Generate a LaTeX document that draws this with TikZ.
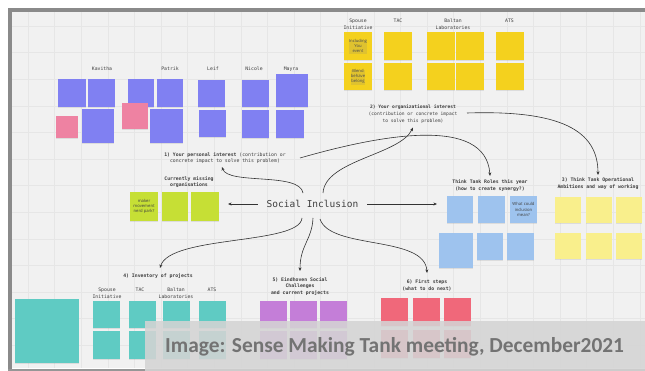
\documentclass[tikz,border=0pt]{standalone}
\usepackage{fontspec}
\setmonofont{DejaVu Sans Mono}
\newfontfamily\capfont{Carlito}
\newfontfamily\stfont{Open Sans}
\usetikzlibrary{shadows,arrows.meta}
\definecolor{canvas}{HTML}{F1F1F1}
\definecolor{gridc}{HTML}{E6E6E6}
\definecolor{framec}{HTML}{8A8A8A}
\definecolor{lblc}{HTML}{3E3E3E}
\definecolor{arrc}{HTML}{333333}
\definecolor{purp}{HTML}{8080F2}
\definecolor{pinkc}{HTML}{EE82A2}
\definecolor{yel}{HTML}{F4D11E}
\definecolor{lime}{HTML}{C6DF35}
\definecolor{lblue}{HTML}{9EC3EE}
\definecolor{pyel}{HTML}{F9EF8C}
\definecolor{teal}{HTML}{5FCBC3}
\definecolor{mag}{HTML}{C47ED8}
\definecolor{redc}{HTML}{F0687A}
\definecolor{capbg}{HTML}{D4D4D4}
\definecolor{capc}{HTML}{737373}
\tikzset{
  lbl/.style={font=\ttfamily\fontsize{4.8}{6.8}\selectfont, text=lblc, align=center, inner sep=0pt},
  blbl/.style={font=\ttfamily\bfseries\fontsize{4.8}{6.8}\selectfont, text=lblc, align=center, inner sep=0pt},
  stk/.style={inner sep=0pt, align=center, font=\stfont\fontsize{4.2}{5.2}\selectfont, text=black!75,
    drop shadow={shadow xshift=0pt, shadow yshift=-1.3pt, opacity=0.18}},
  sz/.style 2 args={minimum width=#1 pt, minimum height=#2 pt},
  conn/.style={draw=arrc, line width=0.6pt, -{Stealth[length=3.6pt,width=3pt]}}
}
\begin{document}
\begin{tikzpicture}[x=1pt,y=-1pt]
\useasboundingbox (0,0) rectangle (645,371);
\fill[white] (0,0) rectangle (645,371);
\fill[canvas] (12,12) rectangle (645,368);
\foreach \x in {28,54.6,...,645} \draw[gridc, line width=0.4pt] (\x,12) -- (\x,368);
\foreach \y in {26,52.6,...,368} \draw[gridc, line width=0.4pt] (12,\y) -- (645,\y);
\fill[framec] (8,8) rectangle (645,12);
\fill[framec] (8,8) rectangle (12,371);
\fill[framec!90] (8,368.5) rectangle (645,371);

% ---------- purple group (personal interest)
\node[lbl] (nk) at (102,69) {Kavitha};
\node[lbl] (np) at (170,69) {Patrik};
\node[lbl] (nl) at (213,69) {Leif};
\node[lbl] (nn) at (254,69) {Nicole};
\node[lbl] (nm) at (291,69) {Mayra};
\node[stk, sz={28}{28}, fill=purp] (p1) at (72,93) {};
\node[stk, sz={27}{28}, fill=purp] (p2) at (101.5,93) {};
\node[stk, sz={32}{34}, fill=purp] (p3) at (98,126) {};
\node[stk, sz={22}{22}, fill=pinkc] (k1) at (67,127) {};
\node[stk, sz={26}{28}, fill=purp] (p4) at (141,93) {};
\node[stk, sz={26}{28}, fill=purp] (p5) at (170,93) {};
\node[stk, sz={33}{34}, fill=purp] (p6) at (166.5,126) {};
\node[stk, sz={26}{26}, fill=pinkc] (k2) at (135,116) {};
\node[stk, sz={27}{27}, fill=purp] (p7) at (211.5,93.5) {};
\node[stk, sz={27}{27}, fill=purp] (p8) at (212,123.5) {};
\node[stk, sz={27}{27}, fill=purp] (p9) at (255.5,93.5) {};
\node[stk, sz={27}{28}, fill=purp] (p10) at (255.5,124) {};
\node[stk, sz={32}{33}, fill=purp] (p11) at (292,90.5) {};
\node[stk, sz={28}{28}, fill=purp] (p12) at (290,124) {};
\node[lbl] (l1) at (225,158) {\textbf{1) Your personal interest} (contribution or\\concrete impact to solve this problem)};

% ---------- yellow group (organizational interest)
\node[lbl] (ys) at (358,24.5) {Spouse\\Initiative};
\node[lbl] (yt) at (398,21) {TAC};
\node[lbl] (yb) at (453,24.5) {Baltan\\Laboratories};
\node[lbl] (ya) at (509.5,21) {ATS};
\foreach \n/\x in {1/358,2/398,3/441,4/470,5/509.5}{
  \node[stk, sz={28}{28}, fill=yel] (ya\n) at (\x,46) {};
  \node[stk, sz={28}{27}, fill=yel] (yb\n) at (\x,76.5) {};
}
\node[stk, text=black!70] at (ya1) {Including\\You\\event};
\node[stk, text=black!70] at (yb1) {Blend\\behave\\belong};
\node[lbl, font=\ttfamily\fontsize{4.6}{6.8}\selectfont] (l2) at (413,114) {\textbf{2) Your organizational interest}\\(contribution or concrete impact\\to solve this problem)};

% ---------- centre
\node[font=\ttfamily\fontsize{9.5}{11}\selectfont, text=lblc, inner xsep=9pt, inner ysep=2pt] (si) at (312.5,204) {Social Inclusion};

% ---------- lime group
\node[blbl] (lm) at (189,182) {Currently missing\\organisations};
\node[stk, sz={28}{29}, fill=lime] (g1) at (144,206.5) {maker\\movement\\nerd park?};
\node[stk, sz={26}{29}, fill=lime] (g2) at (175,206.5) {};
\node[stk, sz={28}{29}, fill=lime] (g3) at (205,206.5) {};

% ---------- light blue group
\node[blbl] (lb) at (490,185.5) {Think Tank Roles this year\\(how to create synergy?)};
\node[stk, sz={26}{27}, fill=lblue] (b1) at (460,209.5) {};
\node[stk, sz={27}{27}, fill=lblue] (b2) at (491.5,209.5) {};
\node[stk, sz={27}{27}, fill=lblue] (b3) at (523.5,209.5) {What could\\inclusion\\mean?};
\node[stk, sz={34}{35}, fill=lblue] (b4) at (456,250.5) {};
\node[stk, sz={26}{27}, fill=lblue] (b5) at (490,246.5) {};
\node[stk, sz={27}{27}, fill=lblue] (b6) at (520.5,246.5) {};

% ---------- pale yellow group
\node[blbl] (l3) at (598,183.5) {3) Think Tank Operational\\Ambitions and way of working};
\foreach \n/\x in {1/568,2/599,3/629}{
  \node[stk, sz={26}{26}, fill=pyel] (pa\n) at (\x,210) {};
  \node[stk, sz={26}{26}, fill=pyel] (pb\n) at (\x,246) {};
}

% ---------- teal group
\node[blbl] (l4) at (158,276) {4) Inventory of projects};
\node[lbl] (ts) at (107,293.5) {Spouse\\Initiative};
\node[lbl] (tt) at (140,290) {TAC};
\node[lbl] (tb) at (176,293.5) {Baltan\\Laboratories};
\node[lbl] (ta) at (212,290) {ATS};
\node[stk, sz={64}{64}, fill=teal] (tbig) at (47,331) {};
\foreach \n/\x in {1/106.5,2/142,3/176.5,4/212}{
  \node[stk, sz={27}{27}, fill=teal] (ta\n) at (\x,314.5) {};
  \node[stk, sz={27}{28}, fill=teal] (tb\n) at (\x,345) {};
}

% ---------- magenta group
\node[blbl] (l5) at (300,286.5) {5) Eindhoven Social\\Challenges\\and current projects};
\foreach \n/\x in {1/273.5,2/303.5,3/333.5}{
  \node[stk, sz={27}{27}, fill=mag] (ma\n) at (\x,314.5) {};
  \node[stk, sz={27}{28}, fill=mag] (mb\n) at (\x,345) {};
}

% ---------- red group
\node[blbl] (l6) at (427,285.5) {6) First steps\\(what to do next)};
\foreach \n/\x in {1/394.5,2/426,3/457.5}{
  \node[stk, sz={27}{28}, fill=redc] (ra\n) at (\x,312) {};
  \node[stk, sz={27}{28}, fill=redc] (rb\n) at (\x,344) {};
}

% ---------- connectors
\coordinate (s1) at (303,193);
\coordinate (s2) at (323,193);
\coordinate (s4) at (302,218);
\coordinate (s5) at (313,218);
\coordinate (s6) at (320,219);
\coordinate (e1) at (222,167);
\coordinate (e2) at (413,127.5);
\coordinate (fb) at (300,158);
\coordinate (eb) at (490,176);
\coordinate (o2) at (467,113);
\coordinate (e3) at (598,175);
\coordinate (e4) at (160,268);
\coordinate (e5) at (300,271);
\coordinate (e6) at (427,273);
\coordinate (eg) at (228,204);
\coordinate (er) at (437,204);
\draw[conn] (s1) .. controls (300,172) and (228,185) .. (e1);
\draw[conn] (s2) .. controls (325,160) and (400,155) .. (e2);
\draw[conn] (fb) .. controls (380,135) and (486,115) .. (eb);
\draw[conn] (o2) .. controls (560,110) and (598,130) .. (e3);
\draw[conn] (si.west) -- (eg);
\draw[conn] (si.east) -- (er);
\draw[conn] (s4) .. controls (300,245) and (170,235) .. (e4);
\draw[conn] (s5) .. controls (312,240) and (300,245) .. (e5);
\draw[conn] (s6) .. controls (330,250) and (425,235) .. (e6);

% ---------- caption
\fill[capbg, opacity=0.88] (145,321) rectangle (645,371);
\node[anchor=base west, font=\capfont\bfseries\fontsize{21.4}{25}\selectfont, text=capc, inner sep=0pt] (cap) at (165,352) {Image: Sense Making Tank meeting, December2021};
\end{tikzpicture}
\end{document}
